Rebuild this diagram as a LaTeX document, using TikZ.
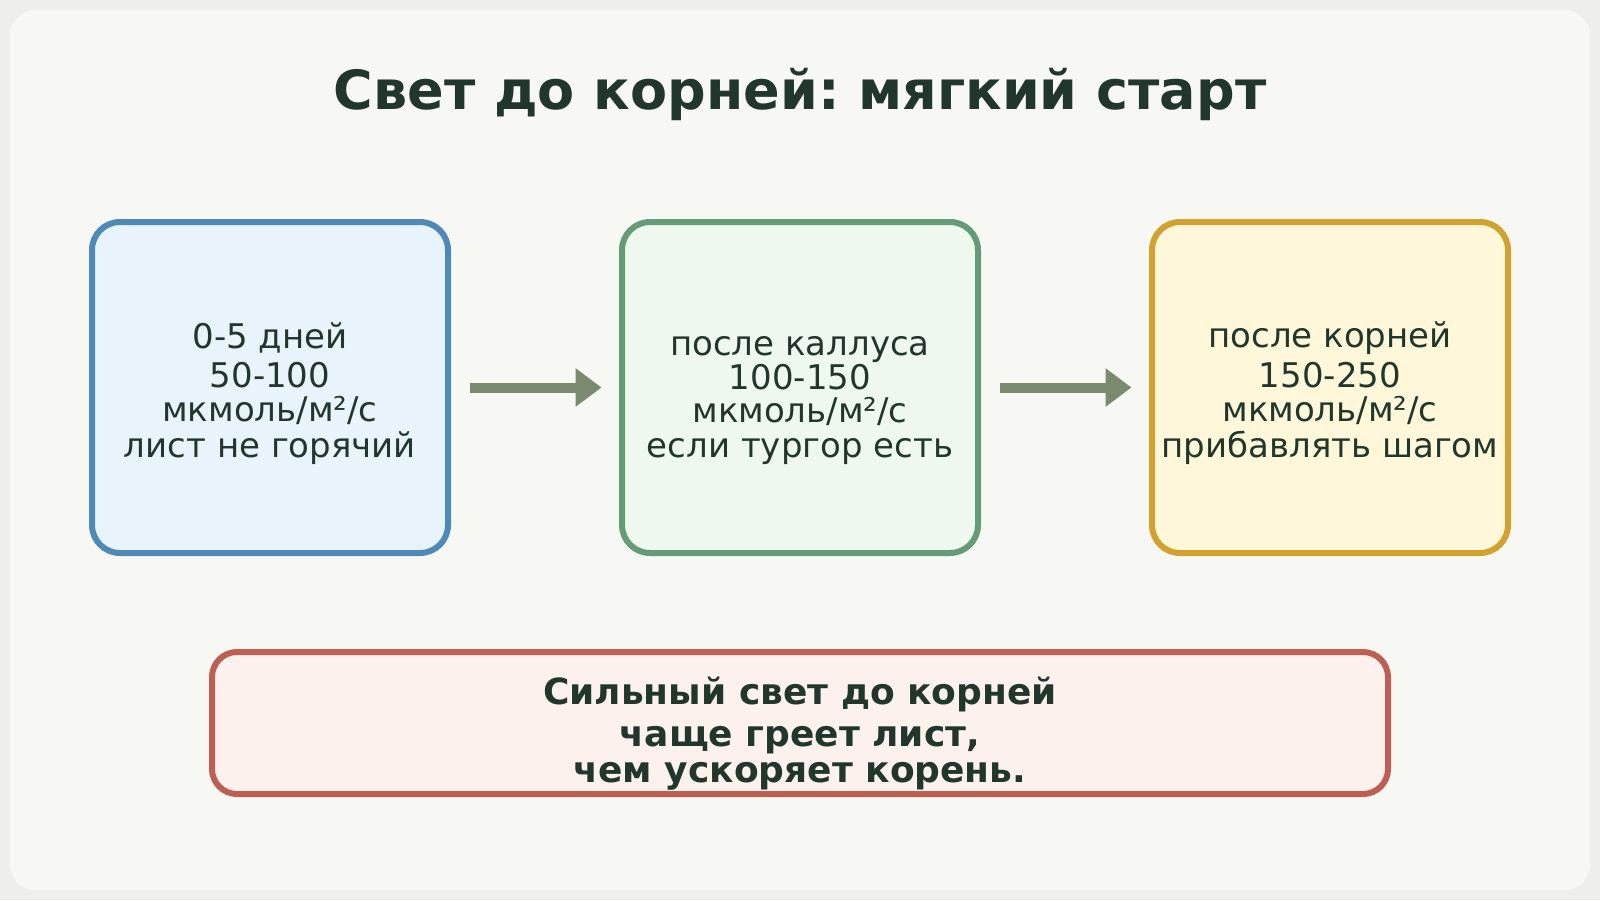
\documentclass[tikz,border=0pt]{standalone}
\usepackage{fontspec}
\setmainfont{DejaVu Sans}
\frenchspacing
\usetikzlibrary{arrows.meta}
\definecolor{bgout}{HTML}{EEEFEA}
\definecolor{bgin}{HTML}{F7F8F3}
\definecolor{ink}{HTML}{22372B}
\definecolor{blueS}{HTML}{4F8AB6}
\definecolor{blueF}{HTML}{E9F3FC}
\definecolor{greenS}{HTML}{659C77}
\definecolor{greenF}{HTML}{EEF8EE}
\definecolor{goldS}{HTML}{D1A22F}
\definecolor{goldF}{HTML}{FEF7DA}
\definecolor{redS}{HTML}{BD5F52}
\definecolor{redF}{HTML}{FDF1EE}
\definecolor{arrowC}{HTML}{7A8A6E}
\begin{document}
\begin{tikzpicture}[x=0.5pt,y=-0.5pt,
  stage/.style={draw, line width=3pt, rounded corners=14pt, minimum width=178pt, minimum height=165.5pt, inner sep=0pt},
  txt/.style={text=ink, font=\fontsize{17}{20}\selectfont, anchor=base, inner sep=0pt},
  note/.style={text=ink, font=\bfseries\fontsize{18}{21}\selectfont, anchor=base, inner sep=0pt},
  flow/.style={draw=arrowC, line width=5pt, -{Triangle[length=13pt,width=18.5pt]}, shorten <=9.5pt, shorten >=8.75pt},
]
\useasboundingbox (0,0) rectangle (1600,900);
\fill[bgout] (0,0) rectangle (1600,900);
\fill[bgin, rounded corners=12.5pt] (10,10) rectangle (1590,890);

\node[text=ink, font=\bfseries\fontsize{27}{32}\selectfont, anchor=base, inner sep=0pt] (title) at (800,109) {Свет до корней: мягкий старт};

\node[stage, draw=blueS, fill=blueF] (b1) at (270,387.5) {};
\node[stage, draw=greenS, fill=greenF] (b2) at (800,387.5) {};
\node[stage, draw=goldS, fill=goldF] (b3) at (1330,387.5) {};

\node[txt] (b1l1) at (270,348) {0-5 дней};
\node[txt] (b1l2) at (270,387) {50-100};
\node[txt] (b1l3) at (270,421) {мкмоль/м²/с};
\node[txt] (b1l4) at (270,457) {лист не горячий};

\node[txt] (b2l1) at (800,355) {после каллуса};
\node[txt] (b2l2) at (800,389) {100-150};
\node[txt] (b2l3) at (800,422) {мкмоль/м²/с};
\node[txt] (b2l4) at (800,457) {если тургор есть};

\node[txt] (b3l1) at (1330,347) {после корней};
\node[txt] (b3l2) at (1330,387) {150-250};
\node[txt] (b3l3) at (1330,421) {мкмоль/м²/с};
\node[txt] (b3l4) at (1330,457) {прибавлять шагом};

\draw[flow] (b1) -- (b2);
\draw[flow] (b2) -- (b3);

\node[draw=redS, fill=redF, line width=3pt, rounded corners=12.5pt, minimum width=588pt, minimum height=71pt, inner sep=0pt] (warn) at (800,723) {};
\node[note] (w1) at (800,704) {Сильный свет до корней};
\node[note] (w2) at (800,746) {чаще греет лист,};
\node[note] (w3) at (800,782) {чем ускоряет корень.};
\end{tikzpicture}
\end{document}
